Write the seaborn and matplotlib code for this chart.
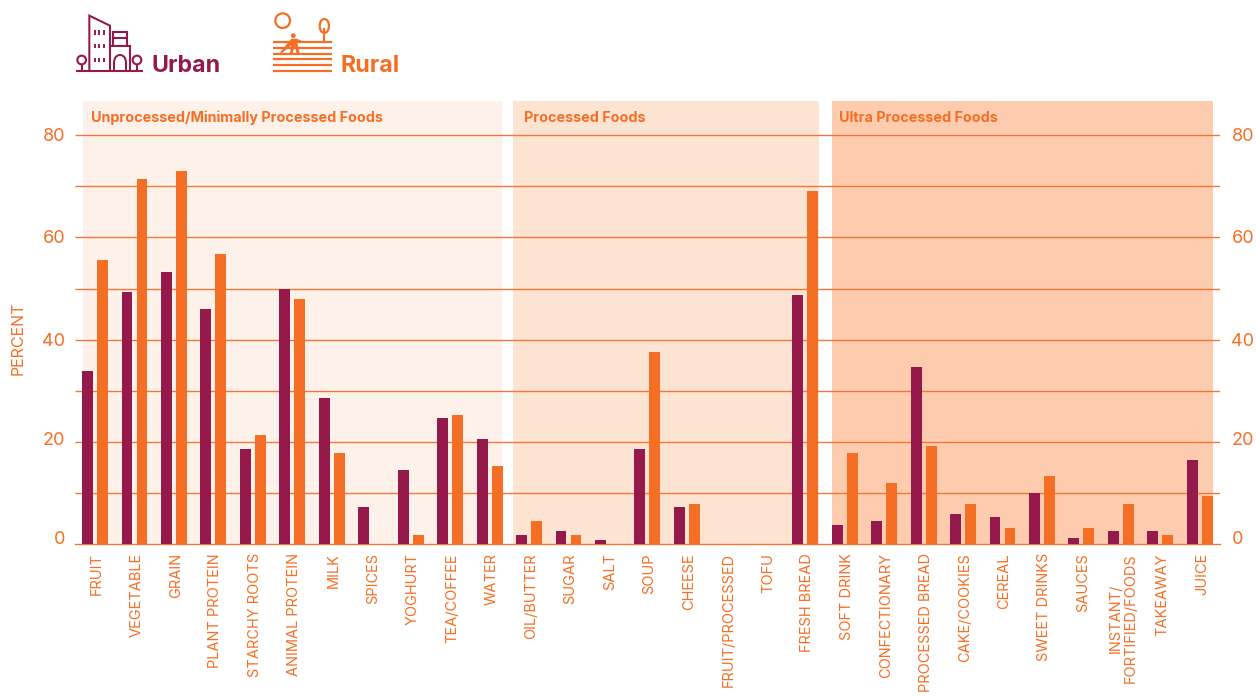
import matplotlib
matplotlib.use("Agg")
import matplotlib.pyplot as plt
from matplotlib.patches import Arc, Circle, Ellipse, Polygon
from matplotlib.transforms import ScaledTranslation
import pandas as pd
import seaborn as sns

categories = ["FRUIT", "VEGETABLE", "GRAIN", "PLANT PROTEIN", "STARCHY ROOTS", "ANIMAL PROTEIN",
              "MILK", "SPICES", "YOGHURT", "TEA/COFFEE", "WATER", "OIL/BUTTER", "SUGAR", "SALT",
              "SOUP", "CHEESE", "FRUIT/PROCESSED", "TOFU", "FRESH BREAD", "SOFT DRINK",
              "CONFECTIONARY", "PROCESSED BREAD", "CAKE/COOKIES", "CEREAL", "SWEET DRINKS",
              "SAUCES", "INSTANT/\nFORTIFIED/FOODS", "TAKEAWAY", "JUICE"]
urban = [33.9, 49.4, 53.3, 46.0, 18.6, 50.0, 28.6, 7.2, 14.5, 24.7, 20.6, 1.8, 2.5, 0.7,
         18.6, 7.2, 0, 0, 48.8, 3.8, 4.5, 34.7, 5.9, 5.2, 10.0, 1.1, 2.5, 2.5, 16.5]
rural = [55.5, 71.5, 72.9, 56.8, 21.3, 48.0, 17.8, 0, 1.8, 25.3, 15.3, 4.5, 1.8, 0,
         37.5, 7.9, 0, 0, 69.0, 17.8, 12.0, 19.2, 7.9, 3.1, 13.3, 3.1, 7.9, 1.8, 9.3]
group_names = ["Unprocessed/Minimally Processed Foods", "Processed Foods", "Ultra Processed Foods"]
y_ticks = [0, 20, 40, 60, 80]
grid_levels = [10, 20, 30, 40, 50, 60, 70, 80]

PLUM = "#951A4B"
ORANGE = "#F56E25"
LINE = "#F0773A"
FONT = "Inter"
W, H = 1256, 696

plt.rcParams["font.family"] = [FONT, "DejaVu Sans"]
fig = plt.figure(figsize=(W / 100, H / 100), dpi=100, facecolor="white")
ax = fig.add_axes([75.3 / W, 1 - 544 / H, (1219.5 - 75.3) / W, (544 - 101) / H])

df = pd.DataFrame({
    "food": categories * 2,
    "value": urban + rural,
    "area": ["Urban"] * len(categories) + ["Rural"] * len(categories),
})

bands = [(-0.305, 10.32, "#FDF1EA"), (10.60, 18.36, "#FDE3D2"), (18.68, 28.34, "#FDCCAE")]
for x0, x1, c in bands:
    ax.axvspan(x0, x1, color=c, lw=0, zorder=0)
ax.hlines(grid_levels, -0.5, 28.5, color=LINE, lw=1.0, zorder=1)

sns.barplot(data=df, x="food", y="value", hue="area", hue_order=["Urban", "Rural"],
            palette={"Urban": PLUM, "Rural": ORANGE}, width=0.76, gap=0.27,
            saturation=1, legend=False, ax=ax, zorder=3, errorbar=None)

ax.set_xlim(-0.5, 28.5)
ax.set_ylim(0, (544 - 101) / 5.11)
ax.set_xlabel("")
ax.set_ylabel("")
ax.patch.set_alpha(0)
for s in ["top", "left", "right"]:
    ax.spines[s].set_visible(False)
ax.spines["bottom"].set_color(LINE)
ax.spines["bottom"].set_linewidth(1.0)
ax.set_xticks(range(len(categories)))
ax.set_xticklabels(categories, rotation=90, fontsize=10.5, color=ORANGE, ha="center", va="top",
                   linespacing=1.1)
ax.tick_params(axis="x", length=0, pad=6.5)
for lab in ax.get_xticklabels():
    lab.set_transform(lab.get_transform() + ScaledTranslation(2 / 100, 0, fig.dpi_scale_trans))
ax.set_yticks(y_ticks)
ax.tick_params(axis="y", length=0, labelleft=True, labelright=True, pad=10,
               labelsize=13, labelcolor=ORANGE)
ax.grid(False)
shifts = {0: 6, 20: 3, 40: 0, 60: 1, 80: 1}
for t, v in zip(ax.yaxis.get_major_ticks(), y_ticks):
    t.label1.set_transform(t.label1.get_transform()
                           + ScaledTranslation(4 / 100, shifts[v] / 100, fig.dpi_scale_trans))
    t.label2.set_transform(t.label2.get_transform()
                           + ScaledTranslation(-2 / 100, shifts[v] / 100, fig.dpi_scale_trans))

# overlay in pixel coordinates for headings and legend icons
ov = fig.add_axes([0, 0, 1, 1], zorder=5)
ov.set_xlim(0, W)
ov.set_ylim(H, 0)
ov.axis("off")
for x, name in zip([91, 524, 839], group_names):
    ov.text(x, 117.5, name, color=ORANGE, fontsize=10.3, fontweight="bold", va="center", ha="left")
ov.text(18.5, 338, "PERCENT", color=ORANGE, fontsize=11.5, rotation=90, va="center", ha="center")
ov.text(151.5, 72, "Urban", color=PLUM, fontsize=16.7, fontweight="bold", va="baseline")
ov.text(341, 72, "Rural", color=ORANGE, fontsize=16.7, fontweight="bold", va="baseline")


def seg(points, color, lw=1.5):
    xs = [p[0] / 3 for p in points]
    ys = [p[1] / 3 for p in points]
    ov.plot(xs, ys, color=color, lw=lw, solid_capstyle="butt", solid_joinstyle="miter")


# Urban icon
seg([(228, 212), (430, 212)], PLUM)
seg([(268, 210), (268, 47), (330, 77), (330, 210)], PLUM)
seg([(330, 138), (390, 138), (390, 210)], PLUM)
seg([(340, 138), (340, 96), (380, 96), (380, 138)], PLUM)
seg([(340, 115), (380, 115)], PLUM)
seg([(343, 210), (343, 183)], PLUM)
seg([(377, 210), (377, 183)], PLUM)
ov.add_patch(Arc((360 / 3, 183 / 3), 34 / 3, 36 / 3, theta1=180, theta2=360, ec=PLUM, lw=1.5))
for cx in (245, 411):
    ov.add_patch(Circle((cx / 3, 180 / 3), 13 / 3, fill=False, ec=PLUM, lw=1.5))
    seg([(cx, 193), (cx, 212)], PLUM)
for wy in (97, 138, 180):
    for wx in (285, 298, 312):
        seg([(wx, wy - 7), (wx, wy + 7)], PLUM, 1.4)

# Rural icon
ov.add_patch(Circle((848 / 3, 62 / 3), 22 / 3, fill=False, ec=ORANGE, lw=1.6))
ov.add_patch(Ellipse((973 / 3, 78 / 3), 28 / 3, 42 / 3, fill=False, ec=ORANGE, lw=1.6))
seg([(973, 85), (973, 127)], ORANGE)
for ly in (127, 143, 161, 177, 195, 213):
    seg([(818, ly), (996, ly)], ORANGE, 1.6)
ov.add_patch(Circle((880 / 3, 107 / 3), 7 / 3, fc=ORANGE, ec="none"))
ov.add_patch(Polygon([(p[0] / 3, p[1] / 3) for p in
                      [(874, 116), (890, 116), (904, 122), (892, 130), (899, 160), (890, 160),
                       (884, 138), (878, 160), (870, 160), (874, 136), (845, 160), (840, 158)]],
                     fc=ORANGE, ec="none"))

fig.savefig("out.png", dpi=100, facecolor="white")
